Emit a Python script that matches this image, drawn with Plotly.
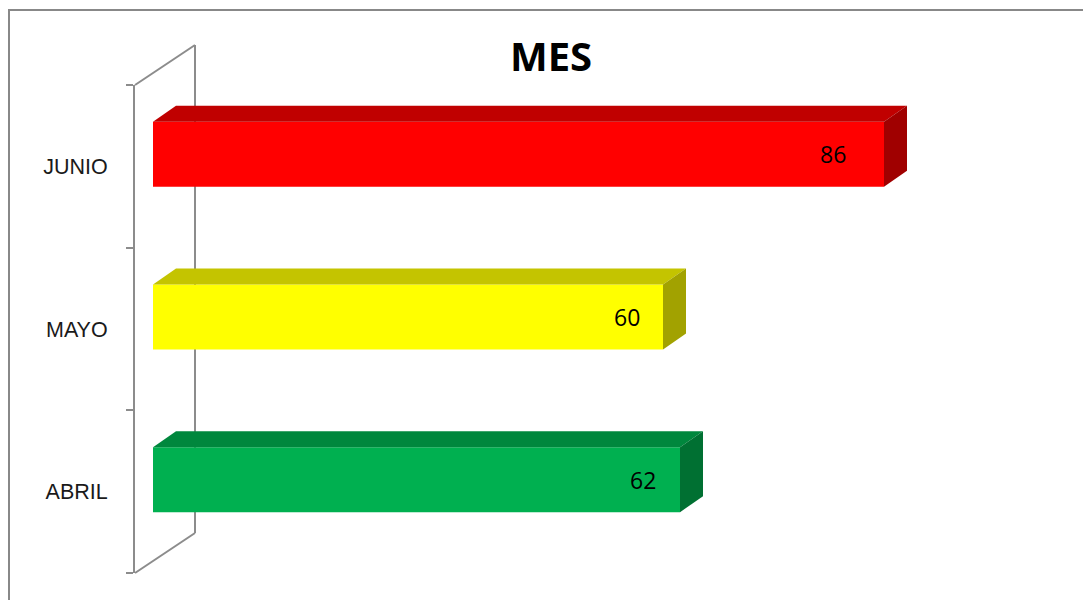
import plotly.graph_objects as go

# ---- data ----
categories = ["ABRIL", "MAYO", "JUNIO"]
values = [62, 60, 86]
front_colors = ["#00B050", "#FFFF00", "#FF0000"]
top_colors = ["#00873D", "#C4C400", "#C00000"]
side_colors = ["#007032", "#A2A200", "#A00000"]
title_text = "MES"

# ---- geometry / style ----
W, H = 1083, 600
ML, MR, MT, MB = 135, 20, 85, 27
PX_PER_UNIT = 8.5
plot_w = W - ML - MR
plot_h = H - MT - MB
x0 = -18 / PX_PER_UNIT
x1 = x0 + plot_w / PX_PER_UNIT
y_range = [-0.5, len(categories) - 0.5]
py_per_unit = plot_h / (y_range[1] - y_range[0])

bar_w = 65 / py_per_unit
bar_off = 12 / py_per_unit
dx = 23 / PX_PER_UNIT
dy = 16 / py_per_unit
grey = "#8C8C8C"

pos = list(range(len(categories)))
centers = [p + bar_off for p in pos]

fig = go.Figure()
fig.add_trace(go.Bar(
    y=centers, x=values, orientation="h", width=bar_w,
    marker=dict(color=front_colors, line=dict(width=0)),
    hoverinfo="skip", showlegend=False,
))

# 3D faces computed from values
for c, v, tc, sc in zip(centers, values, top_colors, side_colors):
    top = c + bar_w / 2
    bot = c - bar_w / 2
    fig.add_trace(go.Scatter(
        x=[0, v, v + dx, dx, 0], y=[top, top, top + dy, top + dy, top],
        fill="toself", fillcolor=tc, mode="lines", line=dict(width=0, color=tc),
        hoverinfo="skip", showlegend=False))
    fig.add_trace(go.Scatter(
        x=[v, v + dx, v + dx, v, v], y=[top, top + dy, bot + dy, bot, top],
        fill="toself", fillcolor=sc, mode="lines", line=dict(width=0, color=sc),
        hoverinfo="skip", showlegend=False))

# value labels
for c, v in zip(centers, values):
    fig.add_annotation(x=v * 0.93, y=c, text=str(v), showarrow=False,
                       xanchor="center", yanchor="middle",
                       font=dict(family="Open Sans", size=23, color="#000000"))


def px2paper_x(px):
    return (px - ML) / plot_w


def py2paper_y(py):
    return (H - MB - py) / plot_h


# back wall (decoration, in pixels -> paper)
shapes = []
wall_px = [
    (135, 85, 195, 45),
    (195, 45, 195, 533),
    (195, 533, 135, 573),
]
for a, b, c2, d in wall_px:
    shapes.append(dict(type="line", xref="paper", yref="paper",
                       x0=px2paper_x(a), y0=py2paper_y(b),
                       x1=px2paper_x(c2), y1=py2paper_y(d),
                       line=dict(color=grey, width=2), layer="below"))

# outer chart frame
shapes.append(dict(type="rect", xref="paper", yref="paper",
                   x0=px2paper_x(9), x1=px2paper_x(1100),
                   y0=py2paper_y(620), y1=py2paper_y(10),
                   line=dict(color="#888888", width=2), fillcolor="rgba(0,0,0,0)",
                   layer="below"))

fig.update_layout(
    width=W, height=H,
    margin=dict(l=ML, r=MR, t=MT, b=MB),
    paper_bgcolor="white", plot_bgcolor="rgba(0,0,0,0)",
    shapes=shapes,
    title=dict(text="<b>" + title_text + "</b>", x=551 / W, xref="container", xanchor="center",
               y=1 - 57 / H, yref="container", yanchor="middle",
               font=dict(family="Open Sans", size=40, color="#000000")),
    xaxis=dict(range=[x0, x1], visible=False, fixedrange=True),
    yaxis=dict(range=y_range, tickvals=pos, ticktext=categories, ticks="",
               showline=True, linecolor=grey, linewidth=2, showgrid=False, zeroline=False,
               ticklabelstandoff=21,
               tickfont=dict(family="Liberation Sans", size=21.5, color="#1A1A1A"),
               minor=dict(tickvals=[p - 0.5 for p in pos] + [pos[-1] + 0.5],
                          ticks="outside", ticklen=7, tickcolor=grey, tickwidth=2,
                          showgrid=False)),
    showlegend=False,
)

fig.write_html("out.html")
